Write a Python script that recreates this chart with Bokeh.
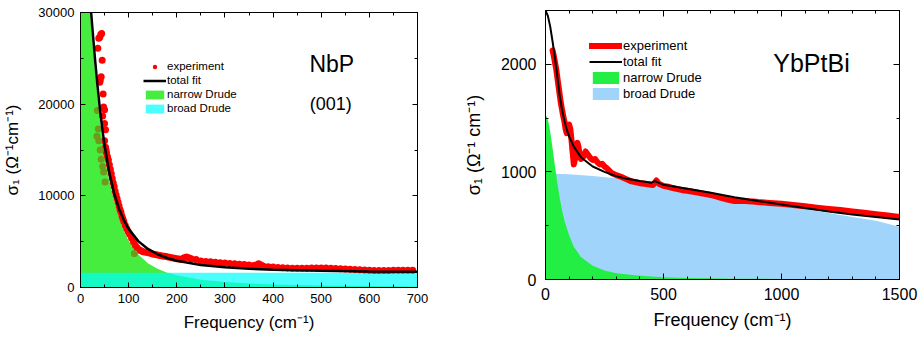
import numpy as np
from bokeh.plotting import figure
from bokeh.models import (Range1d, LinearAxis, SingleIntervalTicker, Legend,
                          LegendItem, Label, CustomJSTickFormatter)
from bokeh.layouts import row, column
from bokeh.embed import file_html
from bokeh.resources import INLINE

FONT = "Liberation Sans"

# ---------------- NbP (left panel) ----------------
nbp_exp_freq = [36, 38, 40, 42, 44, 45, 43, 41, 40, 47, 48, 50, 46, 50, 52, 50,
                35, 37, 34, 38, 41, 43, 46, 48, 51,
                52, 53, 54, 56, 58, 60, 62, 64, 66, 68, 70, 72, 74, 76, 78, 80,
                82, 84, 86, 88, 90, 93, 96, 99, 102, 106, 110, 114, 118, 112,
                122, 126, 130, 135, 140, 145, 150, 155, 160, 165, 170, 175, 180,
                185, 190, 195, 200, 205, 210, 215, 220, 225, 230, 240, 250, 260,
                270, 280, 290, 300, 310, 320, 330, 340, 350, 360, 365, 370, 375,
                380, 390, 400, 410, 420, 430, 440, 450, 460, 470, 480, 490, 500,
                510, 520, 530, 540, 550, 560, 570, 580, 590, 600, 610, 620, 630,
                640, 650, 660, 670, 680, 690]
nbp_exp_sigma = [26100, 27200, 27300, 27600, 27700, 24800, 23000, 22600, 22400,
                 21100, 19700, 19400, 18700, 17900, 17200, 16000,
                 19300, 17300, 16500, 16000, 15000, 14000, 13200, 12600, 11500,
                 15300, 15000, 14700, 14300, 13900, 13400, 12900, 12400, 11900,
                 11400, 11000, 10500, 10100, 9700, 9300, 8900, 8500, 8200, 7800,
                 7500, 7200, 6800, 6400, 6100, 5800, 5400, 5000, 4600, 4300, 3700,
                 4100, 4000, 3900, 3850, 3800, 3750, 3650, 3600, 3550, 3500, 3450,
                 3400, 3350, 3300, 3250, 3200, 3150, 3100, 3080, 3250, 3320, 3250,
                 3150, 3050, 2900, 2850, 2800, 2750, 2700, 2660, 2620, 2580, 2540,
                 2500, 2460, 2410, 2450, 2600, 2450, 2320, 2260, 2230, 2190, 2160,
                 2140, 2110, 2100, 2100, 2110, 2120, 2130, 2140, 2130, 2100, 2070,
                 2040, 2010, 1990, 1960, 1930, 1900, 1880, 1860, 1850, 1850, 1860,
                 1870, 1870, 1880, 1880, 1870]

nbp_fit_freq = [18, 20, 25, 30, 35, 40, 45, 50, 60, 70, 80, 90, 100, 120, 140,
                160, 180, 200, 250, 300, 350, 400, 500, 600, 700]
nbp_fit_sigma = [32640, 31360, 28120, 25010, 22160, 19630, 17420, 15510, 12480,
                 10250, 8600, 7350, 6395, 5060, 4208, 3629, 3221, 2924, 2458,
                 2200, 2043, 1940, 1818, 1752, 1712]

nbp_narrow_freq = [0, 5, 10, 15, 20, 25, 30, 35, 40, 45, 50, 60, 70, 80, 90, 100,
                   120, 140, 160, 180, 200, 250, 300, 350, 400, 500, 600, 700]
nbp_narrow_sigma = [38000, 37350, 35540, 32880, 29800, 26700, 23700, 20900,
                    18400, 16300, 14300, 11600, 9400, 7600, 6200, 5100, 3600,
                    2650, 2050, 1620, 1324, 858, 600, 443, 340, 218, 152, 112]

nbp_broad_freq = [0, 100, 200, 300, 400, 500, 600, 700]
nbp_broad_sigma = [1610, 1610, 1605, 1605, 1600, 1600, 1595, 1595]

# ---------------- YbPtBi (right panel) ----------------
yb_exp_freq = [30, 35, 40, 45, 50, 55, 60, 65, 70, 75, 80, 85, 90, 95, 100, 105,
               110, 115, 120, 125, 130, 135, 140, 145, 150, 160, 170, 180, 190,
               200, 210, 220, 230, 240, 250, 260, 270, 280, 300, 320, 340, 360,
               380, 400, 420, 440, 455, 470, 480, 500, 520, 540, 560, 580, 600,
               620, 640, 660, 680, 700, 720, 740, 760, 780, 800, 820, 840, 860,
               880, 900, 950, 1000, 1050, 1100, 1150, 1200, 1250, 1300, 1350,
               1400, 1450, 1500]
yb_exp_sigma = [2130, 2080, 2020, 1960, 1880, 1800, 1720, 1640, 1580, 1520, 1470,
                1400, 1360, 1430, 1440, 1400, 1300, 1180, 1070, 1120, 1240, 1270,
                1230, 1150, 1120, 1140, 1190, 1160, 1130, 1110, 1120, 1090, 1070,
                1075, 1050, 1035, 1010, 990, 970, 955, 935, 915, 905, 895, 890,
                883, 878, 920, 890, 870, 862, 850, 840, 830, 825, 818, 810, 802,
                793, 785, 775, 762, 750, 738, 730, 730, 732, 728, 725, 720, 712,
                703, 692, 680, 668, 656, 645, 632, 620, 607, 594, 580]

yb_fit_freq = [0, 10, 20, 30, 40, 50, 60, 70, 80, 90, 100, 120, 150, 200, 250,
               300, 350, 400, 450, 465, 475, 500, 600, 700, 800, 900, 1000, 1100,
               1200, 1300, 1400, 1500]
yb_fit_sigma = [2500, 2450, 2350, 2210, 2060, 1890, 1710, 1580, 1475, 1395, 1330,
                1235, 1137, 1050, 1000, 960, 933, 915, 900, 915, 902, 880, 843,
                806, 765, 730, 697, 664, 632, 604, 580, 558]

yb_narrow_freq = [0, 5, 10, 15, 20, 30, 40, 50, 60, 70, 80, 100, 120, 150, 200,
                  250, 300, 400, 500, 600, 700, 800, 1000, 1500]
yb_narrow_sigma = [1525, 1515, 1483, 1435, 1372, 1220, 1056, 900, 762, 643, 549,
                   412, 305, 210, 127, 83, 59, 34, 22, 15, 11, 8, 5, 2]

yb_broad_freq = [0, 100, 200, 300, 400, 500, 600, 700, 800, 900, 1000, 1100,
                 1200, 1300, 1400, 1500]
yb_broad_sigma = [985, 977, 962, 940, 912, 880, 845, 808, 770, 732, 694, 655,
                  617, 580, 545, 490]


def style_axes(p, xint, xminor, yint, yminor, tick_px, major_len, minor_len,
               x_standoff, y_standoff, xl_standoff, yl_standoff, label_px):
    xt = SingleIntervalTicker(interval=xint, num_minor_ticks=xminor)
    yt = SingleIntervalTicker(interval=yint, num_minor_ticks=yminor)
    p.xaxis.ticker = xt
    p.yaxis.ticker = yt
    p.xgrid.visible = False
    p.ygrid.visible = False
    for ax in list(p.xaxis) + list(p.yaxis):
        ax.major_tick_in = major_len
        ax.major_tick_out = 0
        ax.minor_tick_in = minor_len
        ax.minor_tick_out = 0
        ax.axis_line_color = "black"
        ax.major_tick_line_color = "black"
        ax.minor_tick_line_color = "black"
        ax.major_label_text_font = FONT
        ax.major_label_text_font_size = tick_px
        ax.major_label_text_color = "black"
        ax.axis_label_text_font = FONT
        ax.axis_label_text_font_size = label_px
        ax.axis_label_text_font_style = "normal"
        ax.axis_label_text_color = "black"
    p.xaxis.major_label_standoff = x_standoff
    p.yaxis.major_label_standoff = y_standoff
    p.xaxis.axis_label_standoff = xl_standoff
    p.yaxis.axis_label_standoff = yl_standoff
    for loc, tk in (("above", xt), ("right", yt)):
        ax = LinearAxis(ticker=tk,
                        formatter=CustomJSTickFormatter(code="return ''"),
                        major_tick_in=major_len, major_tick_out=0,
                        minor_tick_in=minor_len, minor_tick_out=0,
                        major_label_standoff=0, axis_line_color="black")
        p.add_layout(ax, loc)
    p.outline_line_color = "black"
    p.outline_line_width = 1


# ---------------- left figure ----------------
p1 = figure(width=460, height=340, x_range=Range1d(0, 700),
            y_range=Range1d(0, 30000), output_backend="svg",
            toolbar_location=None, min_border_left=78, min_border_right=43,
            min_border_top=12, min_border_bottom=53)
p1.background_fill_color = "white"
p1.border_fill_color = "white"

r_narrow1 = p1.varea(x=nbp_narrow_freq, y1=0, y2=nbp_narrow_sigma,
                     fill_color="#46ec3e", fill_alpha=1.0)
r_broad1 = p1.varea(x=nbp_broad_freq, y1=0, y2=nbp_broad_sigma,
                    fill_color="#00ffff", fill_alpha=0.7)

ef = np.array(nbp_exp_freq, dtype=float)
es = np.array(nbp_exp_sigma, dtype=float)
under = es < np.interp(ef, nbp_narrow_freq, nbp_narrow_sigma)
r_exp1 = p1.scatter(x=ef[~under], y=es[~under], size=7, color="#ff0000",
                    line_color=None)
p1.scatter(x=ef[under], y=es[under], size=7, color="#6f9a1c", line_color=None)
r_fit1 = p1.line(x=nbp_fit_freq, y=nbp_fit_sigma, line_color="black",
                 line_width=2.5)

p1.xaxis.axis_label = "Frequency (cm\u207b\u00b9)"
p1.yaxis.axis_label = "\u03c3\u2081 (\u03a9\u207b\u00b9cm\u207b\u00b9)"
style_axes(p1, 100, 2, 10000, 2, "13px", 5, 3, 6, 6, 7, 13, "17px")

leg1 = Legend(items=[
    LegendItem(label="experiment", renderers=[r_exp1]),
    LegendItem(label="total fit", renderers=[r_fit1]),
    LegendItem(label="narrow Drude", renderers=[r_narrow1]),
    LegendItem(label="broad Drude", renderers=[r_broad1]),
], location=(63, 173), border_line_color=None, background_fill_alpha=0,
    padding=0, margin=0, spacing=2, glyph_width=23, glyph_height=11,
    label_height=11, label_standoff=1, label_text_font=FONT,
    label_text_font_size="11.5px", label_text_color="black")
p1.add_layout(leg1)

p1.add_layout(Label(x=522, y=24435, text="NbP", text_font=FONT,
                    text_font_size="23px", text_align="center",
                    text_baseline="middle", text_color="black"))
p1.add_layout(Label(x=520, y=20070, text="(001)", text_font=FONT,
                    text_font_size="18px", text_align="center",
                    text_baseline="middle", text_color="black"))

# ---------------- right figure ----------------
p2 = figure(width=464, height=340, x_range=Range1d(0, 1500),
            y_range=Range1d(0, 2500), output_backend="svg",
            toolbar_location=None, min_border_left=81, min_border_right=25,
            min_border_top=10, min_border_bottom=61)
p2.background_fill_color = "white"
p2.border_fill_color = "white"

r_broad2 = p2.varea(x=yb_broad_freq, y1=0, y2=yb_broad_sigma,
                    fill_color="#a0d4fa", fill_alpha=1.0)
r_narrow2 = p2.varea(x=yb_narrow_freq, y1=0, y2=yb_narrow_sigma,
                     fill_color="#22ee44", fill_alpha=1.0)
r_exp2 = p2.line(x=yb_exp_freq, y=yb_exp_sigma, line_color="#ff0000",
                 line_width=6, line_join="round", line_cap="round")
r_fit2 = p2.line(x=yb_fit_freq, y=yb_fit_sigma, line_color="black",
                 line_width=2)

p2.xaxis.axis_label = "Frequency (cm\u207b\u00b9)"
p2.yaxis.axis_label = "\u03c3\u2081 (\u03a9\u207b\u00b9 cm\u207b\u00b9)"
style_axes(p2, 500, 5, 1000, 2, "16px", 6, 3, 8, 9, 7, 14, "18px")

leg2 = Legend(items=[
    LegendItem(label="experiment", renderers=[r_exp2]),
    LegendItem(label="total fit", renderers=[r_fit2]),
    LegendItem(label="narrow Drude", renderers=[r_narrow2]),
    LegendItem(label="broad Drude", renderers=[r_broad2]),
], location=(44, 178), border_line_color=None, background_fill_alpha=0,
    padding=0, margin=0, spacing=1, glyph_width=33, glyph_height=15,
    label_height=15, label_standoff=1, label_text_font=FONT,
    label_text_font_size="13px", label_text_color="black")
p2.add_layout(leg2)

p2.add_layout(Label(x=1127, y=2009, text="YbPtBi", text_font=FONT,
                    text_font_size="25px", text_align="center",
                    text_baseline="middle", text_color="black"))

layout = row(column(p1), column(p2))
open("out.html", "w").write(file_html(layout, INLINE))
